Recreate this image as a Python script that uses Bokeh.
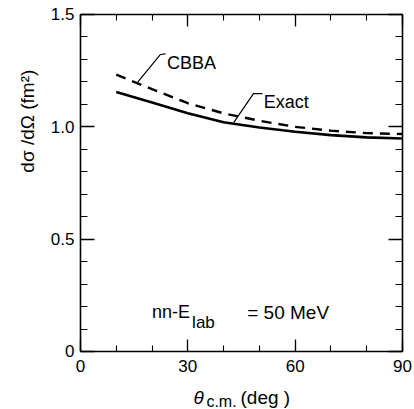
import math
from bokeh.plotting import figure
from bokeh.models import Range1d, FixedTicker, LinearAxis, Label
from bokeh.embed import file_html
from bokeh.resources import INLINE

# data
angle_deg = [10, 20, 30, 40, 50, 60, 70, 80, 90]
exact = [1.155, 1.108, 1.060, 1.020, 0.997, 0.978, 0.963, 0.953, 0.948]
cbba = [1.232, 1.168, 1.105, 1.060, 1.027, 1.000, 0.983, 0.972, 0.968]

x_ticks = [0, 30, 60, 90]
x_minor = [0, 10, 20, 30, 40, 50, 60, 70, 80, 90]
y_ticks = [0, 0.5, 1.0, 1.5]
y_minor = [i / 10 for i in range(16)]
y_tick_labels = {0: "0", 0.5: "0.5", 1.0: "1.0", 1.5: "1.5"}
x_bounds = (0, 90)
y_bounds = (0, 1.5)

cbba_leader_x = [16.0, 22.36, 23.76]
cbba_leader_y = [1.199, 1.322, 1.325]
exact_leader_x = [42.85, 48.35, 50.87]
exact_leader_y = [1.020, 1.148, 1.148]

FONT = "Liberation Sans"

# the frame spans the whole canvas; the axes are pinned at the box edges
p = figure(width=414, height=409, title=None,
           x_range=Range1d(-22.36, 93.36), y_range=Range1d(-0.2582, 1.5623),
           output_backend="svg", toolbar_location=None,
           min_border_left=0, min_border_right=0, min_border_top=0, min_border_bottom=0)
p.background_fill_color = "white"
p.border_fill_color = "white"
p.outline_line_color = None
p.xgrid.visible = False
p.ygrid.visible = False

def style_axis(ax, ticks, minor, bounds, loc, show_labels, major_len, minor_len, standoff=6):
    ax.ticker = FixedTicker(ticks=ticks, minor_ticks=minor)
    ax.bounds = bounds
    ax.fixed_location = loc
    ax.axis_line_color = "black"
    ax.axis_line_width = 1.6
    ax.major_tick_in = major_len
    ax.major_tick_out = 0
    ax.minor_tick_in = minor_len
    ax.minor_tick_out = 0
    ax.major_tick_line_width = 1.3
    ax.minor_tick_line_width = 1.1
    ax.major_tick_line_color = "black"
    ax.minor_tick_line_color = "black"
    ax.major_label_text_font = FONT
    ax.major_label_text_font_size = "17px"
    ax.major_label_text_color = "black"
    ax.major_label_standoff = standoff
    if not show_labels:
        ax.major_label_overrides = {t: "" for t in ticks}

style_axis(p.xaxis[0], x_ticks, x_minor, x_bounds, 0, True, 12, 6, standoff=9)
style_axis(p.yaxis[0], y_ticks, y_minor, y_bounds, 0, True, 14, 7, standoff=6)
p.yaxis[0].major_label_overrides = y_tick_labels
p.xaxis[0].major_label_overrides = {t: str(t) for t in x_ticks}

top = LinearAxis()
style_axis(top, x_ticks, x_minor, x_bounds, 1.5, False, 12, 6)
p.add_layout(top, "above")
right = LinearAxis()
style_axis(right, y_ticks, y_minor, y_bounds, 90, False, 14, 7)
p.add_layout(right, "right")

p.line(angle_deg, exact, line_color="black", line_width=2.6)
p.line(angle_deg, cbba, line_color="black", line_width=2.4, line_dash="10 7")

p.line(cbba_leader_x, cbba_leader_y, line_color="black", line_width=1.2)
p.line(exact_leader_x, exact_leader_y, line_color="black", line_width=1.2)

def add_label(x, y, text, size="18px", align="left", baseline="alphabetic", angle=0.0,
              style="normal"):
    p.add_layout(Label(x=x, y=y, text=text, text_font=FONT, text_font_size=size,
                       text_align=align, text_baseline=baseline, angle=angle,
                       text_font_style=style, text_color="black"))

add_label(24.2, 1.283, "CBBA")
add_label(51.2, 1.109, "Exact")

add_label(20.0, 0.175, "nn-E")
add_label(31.2, 0.130, "lab", size="17px")
add_label(46.6, 0.175, "= 50 MeV", size="19px")

# axis titles
add_label(-14.95, 1.037, "d\u03c3 /d\u03a9  (fm\u00b2)", size="19px", align="center",
          baseline="middle", angle=math.pi / 2)
add_label(31.58, -0.2047, "\u03b8", size="19px", style="italic")
add_label(35.2, -0.2226, "c.m.", size="16px")
add_label(44.72, -0.2047, "(deg )", size="19px")

open("out.html", "w").write(file_html(p, INLINE))
